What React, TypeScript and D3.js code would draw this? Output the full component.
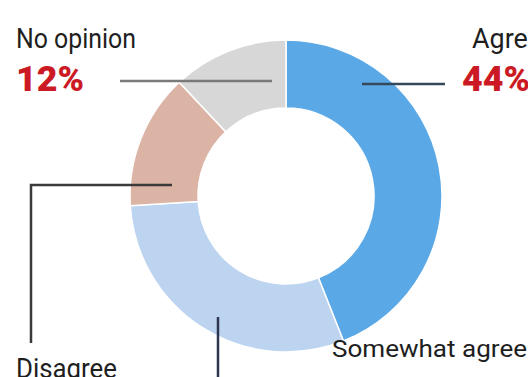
import React from "react";
import * as d3 from "d3";

const categories = ["Agree", "Somewhat agree", "Disagree", "No opinion"];
const values = [44, 30, 14, 12];
const colors = ["#5ba8e6", "#bdd4f0", "#dcb4a6", "#d7d7d7"];

const W = 528;
const H = 377;
const cx = 286;
const cy = 196;
const outerR = 156;
const innerR = 88;

export default function App() {
  const pie = d3.pie<number>().sort(null).value((d) => d).startAngle(0).endAngle(2 * Math.PI);
  const arcs = pie(values);
  const arc = d3.arc<d3.PieArcDatum<number>>().innerRadius(innerR).outerRadius(outerR);
  const labelFont = "Roboto, 'Noto Sans', sans-serif";
  return (
    <svg
      width={W}
      height={H}
      style={{ position: "absolute", left: 0, top: 0, background: "#fff" }}
    >
      <g transform={`translate(${cx},${cy})`}>
        {arcs.map((a, i) => (
          <path key={categories[i]} d={arc(a) || ""} fill={colors[i]} stroke="#fff" strokeWidth={1.5} />
        ))}
      </g>
      {/* leader lines */}
      <line x1={120} y1={81} x2={272} y2={81} stroke="#7a7a7a" strokeWidth={2.5} />
      <line x1={362} y1={84} x2={445} y2={84} stroke="#34495c" strokeWidth={2.5} />
      <polyline points="172,185 31,185 31,343" fill="none" stroke="#3a3a3a" strokeWidth={2.5} />
      <line x1={218} y1={317} x2={218} y2={377} stroke="#2e3550" strokeWidth={2.5} />
      {/* labels */}
      <g fontFamily={labelFont} fontWeight={400}>
        <text x={16} y={48} fontSize={27} fill="#1e1e1e" textLength={120} lengthAdjust="spacingAndGlyphs">{categories[3]}</text>
        <text x={16} y={91} fontSize={35} fontWeight={900} fill="#cc1a24" textLength={68} lengthAdjust="spacingAndGlyphs">{values[3]}%</text>
        <text x={472} y={48} fontSize={27} fill="#1e1e1e" textLength={70} lengthAdjust="spacingAndGlyphs">{categories[0]}</text>
        <text x={462} y={91} fontSize={35} fontWeight={900} fill="#cc1a24" textLength={68} lengthAdjust="spacingAndGlyphs">{values[0]}%</text>
        <text x={16} y={378} fontSize={27} fill="#1e1e1e" textLength={101} lengthAdjust="spacingAndGlyphs">{categories[2]}</text>
        <text x={332} y={357} fontSize={24} fill="#1e1e1e" textLength={195} lengthAdjust="spacingAndGlyphs">{categories[1]}</text>
      </g>
    </svg>
  );
}
